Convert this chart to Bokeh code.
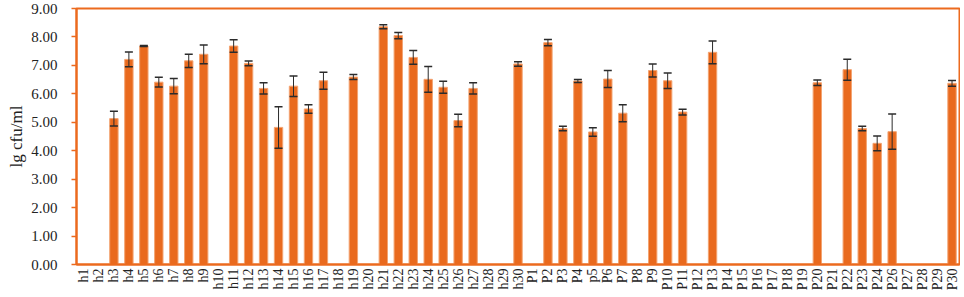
import math
from bokeh.plotting import figure
from bokeh.models import (ColumnDataSource, FactorRange, Range1d, FixedTicker,
                          NumeralTickFormatter)
from bokeh.embed import file_html
from bokeh.resources import INLINE

# ---------------- data ----------------
h_names = ["h%d" % i for i in range(1, 31)]
h_values = [0, 0, 5.13, 7.21, 7.68, 6.41, 6.27, 7.16, 7.39, 0,
            7.68, 7.07, 6.19, 4.82, 6.27, 5.47, 6.46, 0, 6.59, 0,
            8.36, 8.05, 7.28, 6.51, 6.23, 5.06, 6.19, 0, 0, 7.05]
h_errors = [0, 0, 0.26, 0.26, 0.02, 0.17, 0.27, 0.23, 0.33, 0,
            0.22, 0.08, 0.20, 0.73, 0.36, 0.15, 0.30, 0, 0.09, 0,
            0.07, 0.11, 0.24, 0.45, 0.21, 0.22, 0.20, 0, 0, 0.08]

p_names = ["P1", "P2", "P3", "P4", "p5", "P6", "P7", "P8", "P9", "P10",
           "P11", "P12", "P13", "P14", "P15", "P16", "P17", "P18", "P19", "P20",
           "P21", "P22", "P23", "P24", "P26", "P27", "P28", "P29", "P30"]
p_values = [0, 7.80, 4.78, 6.45, 4.66, 6.52, 5.32, 0, 6.82, 6.46,
            5.36, 0, 7.46, 0, 0, 0, 0, 0, 0, 6.39,
            0, 6.85, 4.78, 4.26, 4.67, 0, 0, 0, 6.37]
p_errors = [0, 0.11, 0.08, 0.05, 0.15, 0.30, 0.30, 0, 0.23, 0.27,
            0.10, 0, 0.40, 0, 0, 0, 0, 0, 0, 0.10,
            0, 0.37, 0.08, 0.26, 0.62, 0, 0, 0, 0.10]

y_ticks = [0, 1, 2, 3, 4, 5, 6, 7, 8, 9]
y_label = "lg cfu/ml"

# ---------------- build ----------------
cats = h_names + p_names
vals = h_values + p_values
errs = h_errors + p_errors

bar_src = ColumnDataSource(dict(cat=cats, val=vals))
wk = [(c, v, e) for c, v, e in zip(cats, vals, errs) if v > 0]
err_src = ColumnDataSource(dict(cat=[w[0] for w in wk],
                                upper=[w[1] + w[2] for w in wk],
                                lower=[w[1] - w[2] for w in wk]))

ORANGE = "#EC6A1E"
BAR = "#E96A1E"
ERR = "#2b2b2b"
FONT = "Liberation Serif"

p = figure(x_range=FactorRange(*cats), y_range=Range1d(0, 9),
           width=960, height=293, output_backend="svg", toolbar_location=None,
           min_border_left=76, min_border_right=1, min_border_top=8,
           min_border_bottom=28)

p.vbar(x="cat", top="val", width=0.56, source=bar_src,
       fill_color=BAR, line_color="#F3A472", line_width=1)

# error bars (drawn after the bars so they sit on top)
p.segment(x0="cat", y0="lower", x1="cat", y1="upper", source=err_src,
          line_color=ERR, line_width=1)
p.scatter(x="cat", y="upper", source=err_src, marker="dash", size=8,
          line_color=ERR, line_width=1.5)
p.scatter(x="cat", y="lower", source=err_src, marker="dash", size=8,
          line_color=ERR, line_width=1.5)

p.xgrid.grid_line_color = None
p.ygrid.grid_line_color = None
p.outline_line_color = ORANGE
p.outline_line_width = 2
p.background_fill_color = "white"
p.border_fill_color = "white"

yax = p.yaxis[0]
yax.ticker = FixedTicker(ticks=y_ticks)
yax.formatter = NumeralTickFormatter(format="0.00")
yax.axis_line_color = ORANGE
yax.axis_line_width = 2
yax.major_tick_line_color = ORANGE
yax.major_tick_line_width = 1.5
yax.major_tick_out = 5
yax.major_tick_in = 0
yax.minor_tick_line_color = None
yax.major_label_text_font = FONT
yax.major_label_text_font_size = "15px"
yax.major_label_text_color = "#222222"
yax.major_label_standoff = 14
yax.axis_label = y_label
yax.axis_label_text_font = FONT
yax.axis_label_text_font_size = "17px"
yax.axis_label_text_font_style = "normal"
yax.axis_label_text_color = "#222222"
yax.axis_label_standoff = 2

xax = p.xaxis[0]
xax.axis_line_color = ORANGE
xax.axis_line_width = 2
xax.major_tick_line_color = None
xax.minor_tick_line_color = None
xax.major_tick_out = 0
xax.major_tick_in = 0
xax.major_label_orientation = math.pi / 2
xax.major_label_text_font = FONT
xax.major_label_text_font_size = "14px"
xax.major_label_text_color = "#222222"
xax.major_label_standoff = 4

open("out.html", "w").write(file_html(p, INLINE))
